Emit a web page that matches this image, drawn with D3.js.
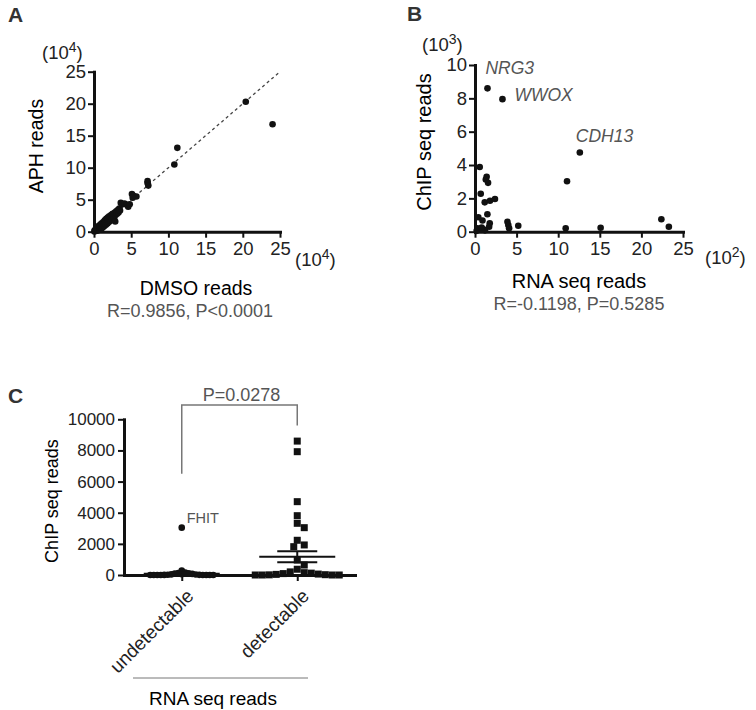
<!DOCTYPE html>
<html>
<head>
<meta charset="utf-8">
<script src="https://cdn.jsdelivr.net/npm/d3@7"></script>
<style>
body{margin:0;background:#fff}
svg{font-family:"Liberation Sans",Arial,sans-serif}
.axis path,.axis line{stroke:#111}
.axis text{fill:#222}
</style>
</head>
<body>
<div class="chart"></div>
<script>
// panel A : DMSO vs APH reads (x10^4)
const dmsoReads=[0.05,0.1,0.2,0.25,0.3,0.35,0.4,0.5,0.5,0.6,0.65,0.7,0.8,0.85,0.9,1.0,1.05,1.1,1.2,1.25,1.3,1.4,1.45,1.5,1.6,1.65,1.7,1.8,1.85,1.9,2.0,2.05,2.1,2.2,2.3,2.35,2.45,2.5,2.6,2.7,2.8,2.85,2.9,3.0,3.1,3.2,3.3,3.4,3.5,3.6,3.8,4.1,4.4,4.6,4.8,5.1,5.3,5.7,5.2,7.2,7.2,7.3,10.8,11.2,20.4,24.0]
const aphReads=[0.05,0.2,0.1,0.35,0.15,0.6,0.3,0.55,0.2,0.9,0.45,0.7,0.35,1.1,0.8,0.5,1.3,1.0,0.7,1.5,1.2,0.9,1.8,1.4,1.1,2.0,1.6,1.3,2.2,1.8,1.5,2.4,2.0,1.7,2.6,2.2,1.9,2.8,2.4,2.1,3.0,1.6,2.6,3.2,2.8,3.4,3.0,3.6,3.3,4.5,4.3,4.4,4.2,3.9,4.3,5.9,5.6,5.5,5.3,7.9,7.6,7.2,10.5,13.1,20.3,16.8]
const abTicks=[0,5,10,15,20,25]

// panel B : RNA seq (x10^2) vs ChIP seq (x10^3)
const rnaReads=[1.5,3.3,12.6,11.06,0.57,0.69,1.4,1.3,1.57,1.17,1.8,2.4,1.49,0.4,0.9,1.77,1.7,3.9,4.0,5.2,10.9,15.1,22.4,23.3,0.3,0.6,1.0,0.2,1.2,0.8,4.1]
const chipReads=[8.6,7.95,4.75,3.03,3.88,2.28,3.3,3.13,2.93,1.76,1.86,1.96,1.05,0.87,0.67,0.5,0.3,0.6,0.4,0.36,0.2,0.24,0.75,0.3,0.2,0.12,0.15,0.05,0.08,0.25,0.2]
const bYTicks=[0,2,4,6,8,10]
const geneLabels=[{name:'NRG3',i:0,dx:-2,dy:-14},{name:'WWOX',i:1,dx:12,dy:2},{name:'CDH13',i:2,dx:-4,dy:-11}]

// panel C : ChIP seq reads by RNA detectability
const groups=['undetectable','detectable']
const undetectableValues=[3040,290,160,130,110,90,70,50,40,30,20,10,5,0,0,0,0,0,0,0,0]
const detectableValues=[8600,7920,4710,3810,3320,3040,2230,1930,1820,960,640,370,200,150,120,90,60,40,20,10,0,0,0,0]
const groupMeans=[80,1175]
const groupSems=[45,355]
const cTicks=[0,2000,4000,6000,8000,10000]

const svg=d3.select('.chart').append('svg')
	.attr('width',756)
	.attr('height',710)

function styleAxis(g,fs){
	g.attr('class','axis')
	g.select('.domain').attr('stroke-width',3).attr('stroke-linecap','square')
	g.selectAll('.tick line').attr('stroke-width',2)
	g.selectAll('.tick text').attr('font-size',fs).attr('font-family','"Liberation Sans",Arial,sans-serif')
}

function expLabel(x,y,base,exp){
	const t=svg.append('text').attr('x',x).attr('y',y).attr('font-size',18.5).attr('fill','#222')
	t.append('tspan').text('('+base)
	t.append('tspan').attr('dy',-7).attr('font-size',14).text(exp)
	t.append('tspan').attr('dy',7).text(')')
}

function panelLetter(x,y,l){
	svg.append('text').attr('x',x).attr('y',y).attr('font-size',21).attr('font-weight','bold')
		.attr('fill','#333').text(l)
}

// ---------- A ----------
const ax=d3.scaleLinear().domain([0,25]).range([94,280])
const ay=d3.scaleLinear().domain([0,25]).range([231.7,71.7])

svg.append('line')
	.attr('x1',ax(0)).attr('y1',ay(0)).attr('x2',ax(25)).attr('y2',ay(25))
	.attr('stroke','#444').attr('stroke-width',1.3).attr('stroke-dasharray','3,3')

svg.append('g').selectAll('circle')
	.data(dmsoReads)
	.enter()
	.append('circle')
	.attr('cx',d=>ax(d))
	.attr('cy',(d,i)=>ay(aphReads[i]))
	.attr('r',3.3)
	.attr('fill','#111')

svg.append('g').attr('transform','translate(0,'+ay(0)+')')
	.call(d3.axisBottom(ax).tickValues(abTicks).tickSize(6).tickSizeOuter(0).tickPadding(4))
	.call(g=>styleAxis(g,18.5))
svg.append('g').attr('transform','translate('+ax(0)+',0)')
	.call(d3.axisLeft(ay).tickValues(abTicks).tickSize(6).tickSizeOuter(0).tickPadding(2))
	.call(g=>styleAxis(g,18.5))

panelLetter(8,22,'A')
expLabel(42,59,'10','4')
expLabel(295,266,'10','4')
svg.append('text').attr('transform','translate(43,146) rotate(-90)')
	.attr('text-anchor','middle').attr('font-size',19.5).text('APH reads')
svg.append('text').attr('x',196).attr('y',295).attr('text-anchor','middle')
	.attr('font-size',19.5).text('DMSO reads')
svg.append('text').attr('x',190).attr('y',317).attr('text-anchor','middle')
	.attr('font-size',18).attr('fill','#555').text('R=0.9856, P<0.0001')

// ---------- B ----------
const bx=d3.scaleLinear().domain([0,25]).range([475,683])
const by=d3.scaleLinear().domain([0,10]).range([231.7,65])

svg.append('g').selectAll('circle')
	.data(rnaReads)
	.enter()
	.append('circle')
	.attr('cx',d=>bx(d))
	.attr('cy',(d,i)=>by(chipReads[i]))
	.attr('r',3.3)
	.attr('fill','#111')

svg.append('g').attr('transform','translate(0,'+by(0)+')')
	.call(d3.axisBottom(bx).tickValues(abTicks).tickSize(6).tickSizeOuter(0).tickPadding(4))
	.call(g=>styleAxis(g,18.5))
svg.append('g').attr('transform','translate('+bx(0)+',0)')
	.call(d3.axisLeft(by).tickValues(bYTicks).tickSize(6).tickSizeOuter(0).tickPadding(2))
	.call(g=>styleAxis(g,18.5))

svg.selectAll('.gene')
	.data(geneLabels)
	.enter()
	.append('text')
	.attr('x',d=>bx(rnaReads[d.i])+d.dx)
	.attr('y',d=>by(chipReads[d.i])+d.dy)
	.attr('font-size',17.5).attr('font-style','italic').attr('fill','#555')
	.text(d=>d.name)

panelLetter(407,21,'B')
expLabel(422,51,'10','3')
expLabel(705,264,'10','2')
svg.append('text').attr('transform','translate(431,142) rotate(-90)')
	.attr('text-anchor','middle').attr('font-size',20).text('ChIP seq reads')
svg.append('text').attr('x',579).attr('y',288).attr('text-anchor','middle')
	.attr('font-size',20).text('RNA seq reads')
svg.append('text').attr('x',579).attr('y',310).attr('text-anchor','middle')
	.attr('font-size',18).attr('fill','#555').text('R=-0.1198, P=0.5285')

// ---------- C ----------
const cx=d3.scalePoint().domain(groups).range([124,355]).padding(0.5)
const cy=d3.scaleLinear().domain([0,10000]).range([575,419.3])

// simple column scatter: spread points sideways when they collide
function swarm(values,x0,step,minDist){
	const placed=[]
	values.map(v=>({v:v,y:cy(v)})).sort((a,b)=>a.y-b.y).forEach(p=>{
		for(let k=0;k<200;k++){
			const off=k==0?0:(k%2?1:-1)*Math.ceil(k/2)*step
			if(placed.every(q=>Math.hypot(q.x-(x0+off),q.y-p.y)>=minDist)){p.x=x0+off;break}
		}
		placed.push(p)
	})
	return placed
}

const uPts=swarm(undetectableValues,cx('undetectable'),3.5,3.5)
const dPts=swarm(detectableValues,cx('detectable'),3.5,7)

svg.append('g').selectAll('circle')
	.data(uPts)
	.enter()
	.append('circle')
	.attr('cx',d=>d.x).attr('cy',d=>d.y).attr('r',3.3).attr('fill','#111')

svg.append('g').selectAll('rect')
	.data(dPts)
	.enter()
	.append('rect')
	.attr('x',d=>d.x-3.5).attr('y',d=>d.y-3.5).attr('width',7).attr('height',7).attr('fill','#111')

// mean and SEM
groups.forEach((g,i)=>{
	const x0=cx(g)
	const m=groupMeans[i],s=groupSems[i]
	svg.append('line').attr('x1',x0-38).attr('x2',x0+38).attr('y1',cy(m)).attr('y2',cy(m))
		.attr('stroke','#111').attr('stroke-width',2)
	;[m-s,m+s].forEach(v=>{
		svg.append('line').attr('x1',x0-20).attr('x2',x0+20).attr('y1',cy(v)).attr('y2',cy(v))
			.attr('stroke','#111').attr('stroke-width',2)
	})
	svg.append('line').attr('x1',x0).attr('x2',x0).attr('y1',cy(m-s)).attr('y2',cy(m+s))
		.attr('stroke','#111').attr('stroke-width',2)
})

svg.append('g').attr('transform','translate('+cx.range()[0]+',0)')
	.call(d3.axisLeft(cy).tickValues(cTicks).tickFormat(d3.format('d')).tickSize(6).tickSizeOuter(0).tickPadding(3))
	.call(g=>styleAxis(g,17))
const cxAxis=svg.append('g').attr('transform','translate(0,'+cy(0)+')')
	.call(d3.axisBottom(cx).tickSize(6).tickSizeOuter(0))
	.call(g=>styleAxis(g,19))
cxAxis.selectAll('.tick text')
	.attr('text-anchor','end')
	.attr('dy',0)
	.attr('transform','translate(6,16) rotate(-45)')

// significance bracket
const bracketY=405
svg.append('path')
	.attr('d','M'+cx('undetectable')+','+(cy(6500))+'V'+bracketY+'H'+cx('detectable')+'V'+cy(9600))
	.attr('fill','none').attr('stroke','#777').attr('stroke-width',1.5)
svg.append('text').attr('x',(cx('undetectable')+cx('detectable'))/2+2).attr('y',401)
	.attr('text-anchor','middle').attr('font-size',18).attr('fill','#555').text('P=0.0278')

svg.append('text').attr('x',cx('undetectable')+5).attr('y',cy(3040)-5)
	.attr('font-size',14.5).attr('fill','#555').text('FHIT')

panelLetter(8,403,'C')
svg.append('text').attr('transform','translate(58,501) rotate(-90)')
	.attr('text-anchor','middle').attr('font-size',18).text('ChIP seq reads')
svg.append('line').attr('x1',133).attr('x2',308).attr('y1',678).attr('y2',678)
	.attr('stroke','#777').attr('stroke-width',1)
svg.append('text').attr('x',213).attr('y',705).attr('text-anchor','middle')
	.attr('font-size',19).text('RNA seq reads')
</script>
</body>
</html>
